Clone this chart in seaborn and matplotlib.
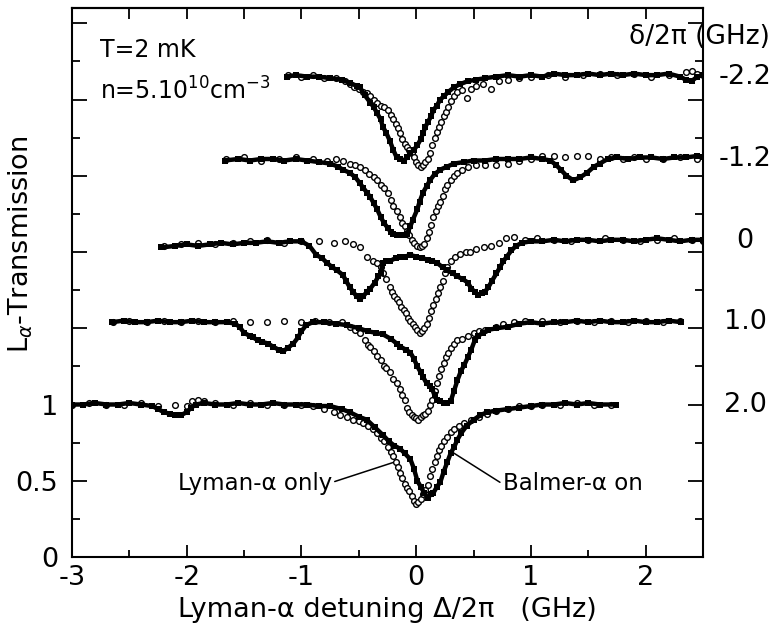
import numpy as np
import pandas as pd
import matplotlib
matplotlib.use("Agg")
import matplotlib.pyplot as plt
import matplotlib.transforms as mtransforms
from matplotlib.ticker import MultipleLocator, NullLocator, FuncFormatter
import seaborn as sns

# Lyman-alpha transmission spectra (normalised, baseline ~1) versus detuning (GHz)
# "on" = Balmer-alpha laser on (filled squares), "off" = Lyman-alpha only (open circles)

# delta/2pi = -2.2 GHz
m22_on_x = [-1.13,-1.05,-0.95,-0.85,-0.75,-0.65,-0.58,-0.52,-0.49,-0.45,-0.40,-0.37,-0.34,-0.31,-0.29,-0.26,-0.23,-0.20,-0.17,-0.14,-0.11,-0.08,-0.05,-0.02,0.01,0.04,0.06,0.08,0.10,0.13,0.15,0.18,0.21,0.24,0.28,0.33,0.38,0.45,0.52,0.60,0.70,0.80,0.90,1.00,1.10,1.20,1.30,1.40,1.50,1.60,1.70,1.80,1.90,2.00,2.10,2.20,2.30,2.35,2.40,2.45,2.50]
m22_on_t = [1.00,1.01,1.00,1.00,0.99,0.98,0.96,0.94,0.93,0.88,0.83,0.80,0.76,0.72,0.67,0.63,0.58,0.52,0.47,0.46,0.45,0.47,0.50,0.52,0.55,0.59,0.63,0.67,0.70,0.74,0.78,0.81,0.85,0.87,0.90,0.93,0.95,0.97,0.98,0.99,1.00,1.01,1.00,1.01,1.00,1.02,1.01,1.01,1.02,1.01,1.02,1.01,1.02,1.01,1.01,1.02,1.00,0.98,0.97,1.00,1.01]
m22_off_x = [-1.12,-1.0,-0.9,-0.8,-0.7,-0.62,-0.58,-0.54,-0.50,-0.46,-0.43,-0.40,-0.37,-0.34,-0.31,-0.28,-0.25,-0.22,-0.20,-0.18,-0.16,-0.14,-0.12,-0.10,-0.08,-0.06,-0.04,-0.02,0.00,0.02,0.04,0.06,0.08,0.10,0.12,0.14,0.16,0.18,0.20,0.22,0.24,0.26,0.28,0.30,0.33,0.36,0.40,0.44,0.48,0.52,0.58,0.65,0.72,0.80,0.90,1.00,1.15,1.30,1.45,1.60,1.75,1.90,2.05,2.20,2.35,2.40,2.45,2.50]
m22_off_t = [1.01,1.00,1.01,0.99,0.99,0.97,0.95,0.93,0.92,0.90,0.89,0.87,0.85,0.83,0.81,0.80,0.78,0.75,0.72,0.69,0.66,0.63,0.59,0.56,0.54,0.52,0.50,0.47,0.44,0.42,0.41,0.42,0.44,0.46,0.50,0.55,0.60,0.64,0.67,0.70,0.74,0.77,0.80,0.84,0.87,0.90,0.91,0.86,0.92,0.94,0.95,0.92,0.97,0.98,0.99,1.00,1.01,1.00,1.01,1.02,1.01,1.02,1.00,1.01,1.03,1.04,1.02,1.01]

# delta/2pi = -1.2 GHz
m12_on_x = [-1.67,-1.55,-1.45,-1.35,-1.25,-1.15,-1.05,-0.95,-0.85,-0.75,-0.68,-0.64,-0.58,-0.53,-0.49,-0.46,-0.43,-0.40,-0.37,-0.34,-0.31,-0.28,-0.25,-0.22,-0.20,-0.17,-0.14,-0.11,-0.08,-0.05,-0.03,0.01,0.03,0.06,0.09,0.12,0.16,0.21,0.27,0.33,0.42,0.50,0.60,0.70,0.80,0.90,1.00,1.10,1.17,1.22,1.26,1.31,1.37,1.43,1.49,1.55,1.60,1.67,1.75,1.85,1.95,2.05,2.15,2.25,2.35,2.45,2.50]
m12_on_t = [0.99,1.00,0.99,1.00,1.00,0.99,1.00,0.99,0.98,0.97,0.95,0.93,0.91,0.88,0.84,0.81,0.78,0.75,0.71,0.67,0.62,0.58,0.55,0.52,0.51,0.50,0.50,0.50,0.51,0.56,0.60,0.67,0.72,0.78,0.82,0.86,0.90,0.93,0.95,0.97,0.98,0.99,0.99,1.00,1.00,1.00,1.01,1.00,0.99,0.96,0.93,0.89,0.86,0.88,0.91,0.95,0.97,1.00,1.01,1.00,1.01,1.01,1.00,1.01,1.01,1.02,1.01]
m12_off_x = [-1.66,-1.5,-1.35,-1.2,-1.05,-0.9,-0.78,-0.70,-0.64,-0.58,-0.53,-0.49,-0.45,-0.41,-0.37,-0.34,-0.31,-0.28,-0.25,-0.22,-0.20,-0.17,-0.14,-0.12,-0.10,-0.08,-0.06,-0.04,-0.02,0.01,0.03,0.05,0.07,0.09,0.11,0.13,0.15,0.17,0.19,0.21,0.23,0.25,0.27,0.30,0.33,0.36,0.40,0.45,0.52,0.60,0.70,0.80,0.90,1.00,1.10,1.20,1.30,1.40,1.50,1.60,1.70,1.80,1.90,2.00,2.15,2.30,2.45]
m12_off_t = [1.00,1.01,0.99,1.00,1.01,1.00,0.99,1.00,0.99,0.97,0.96,0.95,0.93,0.90,0.88,0.86,0.83,0.81,0.78,0.73,0.69,0.66,0.62,0.58,0.56,0.53,0.50,0.47,0.45,0.43,0.42,0.43,0.44,0.48,0.52,0.57,0.62,0.66,0.69,0.72,0.76,0.80,0.83,0.86,0.89,0.91,0.93,0.95,0.96,0.96,0.96,0.97,0.99,1.00,1.02,1.02,1.01,1.02,1.02,1.00,1.01,1.00,1.01,1.00,1.00,1.01,1.00]

# delta/2pi = 0 GHz
p00_on_x = [-2.22,-2.10,-2.00,-1.90,-1.80,-1.70,-1.60,-1.50,-1.40,-1.30,-1.20,-1.10,-1.00,-0.93,-0.87,-0.82,-0.78,-0.73,-0.69,-0.64,-0.61,-0.58,-0.55,-0.52,-0.49,-0.46,-0.43,-0.40,-0.36,-0.33,-0.31,-0.29,-0.26,-0.23,-0.18,-0.14,-0.10,-0.05,0.00,0.05,0.10,0.14,0.18,0.23,0.27,0.32,0.36,0.41,0.45,0.48,0.51,0.54,0.57,0.60,0.63,0.66,0.70,0.73,0.76,0.79,0.83,0.87,0.92,1.00,1.10,1.20,1.30,1.40,1.50,1.60,1.70,1.80,1.90,2.00,2.10,2.20,2.30,2.40,2.50]
p00_on_t = [0.96,0.97,0.98,0.97,0.98,0.99,0.98,0.99,0.99,1.00,0.99,1.00,1.00,0.97,0.91,0.89,0.86,0.83,0.81,0.78,0.74,0.70,0.67,0.64,0.62,0.64,0.67,0.69,0.73,0.77,0.79,0.86,0.87,0.87,0.89,0.90,0.90,0.91,0.90,0.89,0.88,0.87,0.86,0.83,0.81,0.79,0.77,0.75,0.73,0.69,0.67,0.65,0.66,0.67,0.70,0.74,0.79,0.83,0.87,0.90,0.94,0.97,0.99,1.00,1.00,1.01,1.00,1.01,1.01,1.00,1.01,1.01,1.00,1.01,1.02,1.01,1.00,1.01,1.01]
p00_off_x = [-2.20,-2.05,-1.90,-1.75,-1.60,-1.45,-1.30,-1.15,-1.00,-0.85,-0.72,-0.62,-0.55,-0.49,-0.43,-0.38,-0.34,-0.31,-0.29,-0.26,-0.23,-0.21,-0.19,-0.17,-0.15,-0.13,-0.11,-0.09,-0.07,-0.05,-0.03,-0.01,0.01,0.03,0.05,0.07,0.09,0.11,0.13,0.15,0.17,0.19,0.21,0.23,0.25,0.27,0.30,0.34,0.38,0.43,0.47,0.52,0.59,0.65,0.72,0.78,0.85,0.95,1.05,1.20,1.35,1.50,1.65,1.80,1.95,2.10,2.25,2.40,2.50]
p00_off_t = [0.97,0.98,0.99,0.98,0.99,1.00,1.01,0.99,1.00,1.00,0.99,1.00,0.98,0.96,0.90,0.87,0.86,0.83,0.79,0.75,0.70,0.67,0.64,0.62,0.60,0.57,0.55,0.53,0.50,0.48,0.46,0.44,0.42,0.40,0.41,0.43,0.46,0.50,0.54,0.58,0.62,0.66,0.70,0.74,0.79,0.83,0.87,0.90,0.92,0.93,0.93,0.95,0.96,0.97,0.99,1.02,1.03,1.01,1.02,1.01,1.00,1.01,1.02,1.01,1.00,1.01,1.02,1.01,1.00]

# delta/2pi = 1.0 GHz
p10_on_x = [-2.65,-2.55,-2.45,-2.35,-2.25,-2.15,-2.05,-1.95,-1.85,-1.75,-1.65,-1.58,-1.54,-1.50,-1.45,-1.42,-1.38,-1.34,-1.29,-1.25,-1.20,-1.16,-1.12,-1.07,-1.03,-1.00,-0.96,-0.90,-0.80,-0.70,-0.60,-0.50,-0.42,-0.35,-0.29,-0.22,-0.17,-0.14,-0.09,-0.05,-0.02,0.01,0.04,0.06,0.09,0.12,0.14,0.16,0.18,0.21,0.24,0.27,0.30,0.33,0.36,0.39,0.42,0.45,0.48,0.51,0.54,0.58,0.63,0.70,0.80,0.90,1.00,1.10,1.20,1.30,1.40,1.50,1.60,1.70,1.80,1.90,2.00,2.10,2.20,2.31]
p10_on_t = [1.00,1.01,1.00,1.00,1.01,1.00,1.00,1.01,1.00,1.00,1.00,0.99,0.97,0.93,0.91,0.90,0.88,0.87,0.86,0.84,0.82,0.81,0.83,0.86,0.90,0.94,0.98,1.00,1.00,0.99,0.98,0.96,0.94,0.93,0.92,0.89,0.86,0.84,0.82,0.80,0.76,0.71,0.67,0.64,0.60,0.58,0.56,0.52,0.49,0.48,0.47,0.47,0.48,0.55,0.62,0.68,0.72,0.77,0.82,0.88,0.91,0.93,0.95,0.96,0.97,0.99,1.00,0.99,1.00,1.00,1.01,1.00,1.01,1.00,1.00,1.01,1.00,1.00,1.01,1.00]
p10_off_x = [-2.64,-2.50,-2.35,-2.20,-2.05,-1.90,-1.75,-1.60,-1.45,-1.30,-1.15,-1.00,-0.88,-0.76,-0.65,-0.58,-0.53,-0.49,-0.45,-0.42,-0.40,-0.37,-0.34,-0.31,-0.28,-0.26,-0.23,-0.20,-0.17,-0.14,-0.12,-0.10,-0.08,-0.06,-0.04,-0.02,0.00,0.02,0.04,0.06,0.08,0.10,0.12,0.14,0.16,0.18,0.20,0.22,0.24,0.26,0.28,0.30,0.33,0.36,0.40,0.45,0.50,0.55,0.60,0.70,0.76,0.85,0.95,1.10,1.25,1.40,1.55,1.70,1.85,2.00,2.15,2.30]
p10_off_t = [1.00,1.01,1.00,1.01,1.00,1.01,1.00,1.01,1.00,1.00,1.01,1.00,1.01,1.00,1.00,0.97,0.95,0.93,0.88,0.85,0.84,0.81,0.78,0.75,0.71,0.70,0.67,0.63,0.60,0.56,0.52,0.49,0.44,0.41,0.39,0.38,0.37,0.36,0.38,0.39,0.40,0.42,0.46,0.49,0.55,0.60,0.65,0.69,0.73,0.77,0.80,0.83,0.86,0.88,0.89,0.91,0.93,0.94,0.95,0.97,0.99,1.00,1.01,1.01,1.00,1.01,1.00,1.01,1.00,1.01,1.00,1.01]

# delta/2pi = 2.0 GHz
p20_on_x = [-3.00,-2.90,-2.80,-2.70,-2.60,-2.50,-2.40,-2.30,-2.25,-2.20,-2.15,-2.10,-2.05,-2.00,-1.96,-1.92,-1.85,-1.75,-1.65,-1.55,-1.45,-1.35,-1.25,-1.15,-1.05,-0.95,-0.85,-0.75,-0.65,-0.58,-0.50,-0.43,-0.36,-0.29,-0.24,-0.19,-0.14,-0.10,-0.05,-0.02,0.01,0.04,0.07,0.10,0.13,0.15,0.18,0.21,0.24,0.27,0.30,0.33,0.36,0.39,0.44,0.50,0.56,0.62,0.70,0.80,0.90,1.00,1.10,1.20,1.30,1.40,1.50,1.60,1.74]
p20_on_t = [1.00,1.00,1.01,1.00,1.00,1.01,1.00,0.99,0.97,0.95,0.94,0.93,0.93,0.95,0.98,1.00,1.01,1.00,1.00,1.01,1.00,1.00,1.01,1.00,1.00,1.00,0.99,0.99,0.97,0.95,0.92,0.90,0.85,0.80,0.76,0.73,0.71,0.68,0.64,0.58,0.50,0.46,0.42,0.39,0.41,0.42,0.46,0.49,0.56,0.62,0.68,0.72,0.77,0.81,0.86,0.90,0.93,0.95,0.96,0.97,0.98,0.99,1.00,1.00,1.01,1.00,1.01,1.00,1.00]
p20_off_x = [-3.00,-2.85,-2.70,-2.55,-2.40,-2.25,-2.10,-2.00,-1.95,-1.90,-1.85,-1.75,-1.60,-1.45,-1.30,-1.15,-1.00,-0.90,-0.80,-0.72,-0.66,-0.60,-0.55,-0.50,-0.46,-0.42,-0.38,-0.34,-0.31,-0.28,-0.25,-0.22,-0.20,-0.18,-0.16,-0.14,-0.12,-0.10,-0.08,-0.06,-0.04,-0.02,0.00,0.02,0.04,0.06,0.08,0.10,0.12,0.14,0.16,0.18,0.20,0.22,0.24,0.27,0.30,0.33,0.37,0.42,0.48,0.55,0.62,0.70,0.80,0.90,1.00,1.10,1.25,1.40,1.55,1.70]
p20_off_t = [1.00,1.01,1.00,1.00,1.01,0.99,1.00,0.99,1.02,1.03,1.02,1.01,1.00,1.01,1.00,1.00,1.00,0.99,0.97,0.95,0.93,0.92,0.90,0.89,0.88,0.86,0.84,0.81,0.78,0.76,0.72,0.69,0.66,0.62,0.59,0.55,0.52,0.48,0.45,0.43,0.40,0.37,0.35,0.36,0.38,0.41,0.44,0.47,0.53,0.58,0.62,0.66,0.70,0.73,0.76,0.79,0.82,0.84,0.86,0.88,0.90,0.92,0.94,0.96,0.97,0.99,0.99,1.00,1.00,1.01,1.00,1.00]

delta_labels = ["-2.2", "-1.2", "0", "1.0", "2.0"]
stack_offsets = [2.15, 1.61, 1.07, 0.54, 0.0]
spectra = [
    (m22_on_x, m22_on_t, m22_off_x, m22_off_t),
    (m12_on_x, m12_on_t, m12_off_x, m12_off_t),
    (p00_on_x, p00_on_t, p00_off_x, p00_off_t),
    (p10_on_x, p10_on_t, p10_off_x, p10_off_t),
    (p20_on_x, p20_on_t, p20_off_x, p20_off_t),
]

rows = []
for lab, off, (onx, ont, offx, offt) in zip(delta_labels, stack_offsets, spectra):
    for x, t in zip(onx, ont):
        rows.append(dict(delta=lab, series="on", detuning=x, T=t, y=t + off))
    for x, t in zip(offx, offt):
        rows.append(dict(delta=lab, series="off", detuning=x, T=t, y=t + off))
df = pd.DataFrame(rows)

sns.set_theme(style="ticks")
plt.rcParams["font.family"] = ["DejaVu Sans"]
plt.rcParams["axes.linewidth"] = 1.5
plt.rcParams["axes.edgecolor"] = "black"
plt.rcParams["axes.labelcolor"] = "black"
plt.rcParams["text.color"] = "black"
plt.rcParams["xtick.color"] = "black"
plt.rcParams["ytick.color"] = "black"

fig = plt.figure(figsize=(7.8, 6.36), dpi=100)
ax = fig.add_axes([0.0923, 0.1242, 0.8090, 0.8632])

for lab in delta_labels:
    sub_off = df[(df.delta == lab) & (df.series == "off")]
    sub_on = df[(df.delta == lab) & (df.series == "on")]
    sns.scatterplot(data=sub_off, x="detuning", y="y", ax=ax, marker="o", s=17,
                    color="white", edgecolor="black", linewidth=1.0, legend=False, zorder=2)
    sns.lineplot(data=sub_on, x="detuning", y="y", ax=ax, color="black", lw=3.2,
                 marker="s", markersize=4.0, markeredgewidth=0, estimator=None,
                 sort=False, legend=False, zorder=3)

ax.set_xlim(-3, 2.5)
ax.set_ylim(0, 3.6)

ax.xaxis.set_major_locator(MultipleLocator(1))
ax.xaxis.set_minor_locator(MultipleLocator(0.5))
ax.xaxis.set_major_formatter(FuncFormatter(lambda v, p: f"{v:.0f}"))
ytick_pos = [0, 0.5, 1.0, 1.5, 2.0, 2.5, 3.0, 3.5]
ax.set_yticks(ytick_pos)
ax.set_yticklabels(["0", "0.5", "1", "", "", "", "", ""])
ax.yaxis.set_minor_locator(MultipleLocator(0.25))

ax.tick_params(which="major", direction="in", width=1.3, right=True, top=False, labelsize=19.5)
ax.tick_params(which="minor", direction="in", width=1.3, right=True, top=False)
ax.tick_params(axis="x", which="major", length=9, pad=6)
ax.tick_params(axis="x", which="minor", length=5)
ax.tick_params(axis="y", which="major", length=11, pad=10)
ax.tick_params(axis="y", which="minor", length=6)

top = ax.secondary_xaxis("top")
top.xaxis.set_major_locator(MultipleLocator(0.5))
top.xaxis.set_minor_locator(NullLocator())
top.tick_params(direction="in", length=8, width=1.3, labeltop=False)

ax.set_xlabel("Lyman-\u03b1 detuning \u0394/2\u03c0   (GHz)", fontsize=19.5, labelpad=4)
ax.set_ylabel("L$_\\alpha$-Transmission", fontsize=19.5)
ax.yaxis.set_label_coords(-0.058, 0.57)

trans = mtransforms.blended_transform_factory(ax.transAxes, ax.transData)
for lab, off in zip(delta_labels, stack_offsets):
    ax.text(1.067, off + 1.0, lab, transform=trans, ha="center", va="center",
            fontsize=19.5, clip_on=False)
ax.text(0.995, 3.41, "\u03b4/2\u03c0 (GHz)", transform=trans, ha="center", va="center",
        fontsize=19, clip_on=False)

ax.text(0.044, 3.28, "T=2 mK", transform=trans, ha="left", va="baseline", fontsize=17)
ax.text(0.044, 3.0, "n=5.10$^{10}$cm$^{-3}$", transform=trans, ha="left", va="baseline", fontsize=17)

ax.plot([-0.71, -0.2], [0.495, 0.62], color="black", lw=1.1, zorder=4)
ax.text(-0.73, 0.485, "Lyman-\u03b1 only", ha="right", va="center", fontsize=16.5)
ax.plot([0.73, 0.31], [0.49, 0.69], color="black", lw=1.1, zorder=4)
ax.text(0.76, 0.485, "Balmer-\u03b1 on", ha="left", va="center", fontsize=16.5)

fig.savefig("out.png", dpi=100)
